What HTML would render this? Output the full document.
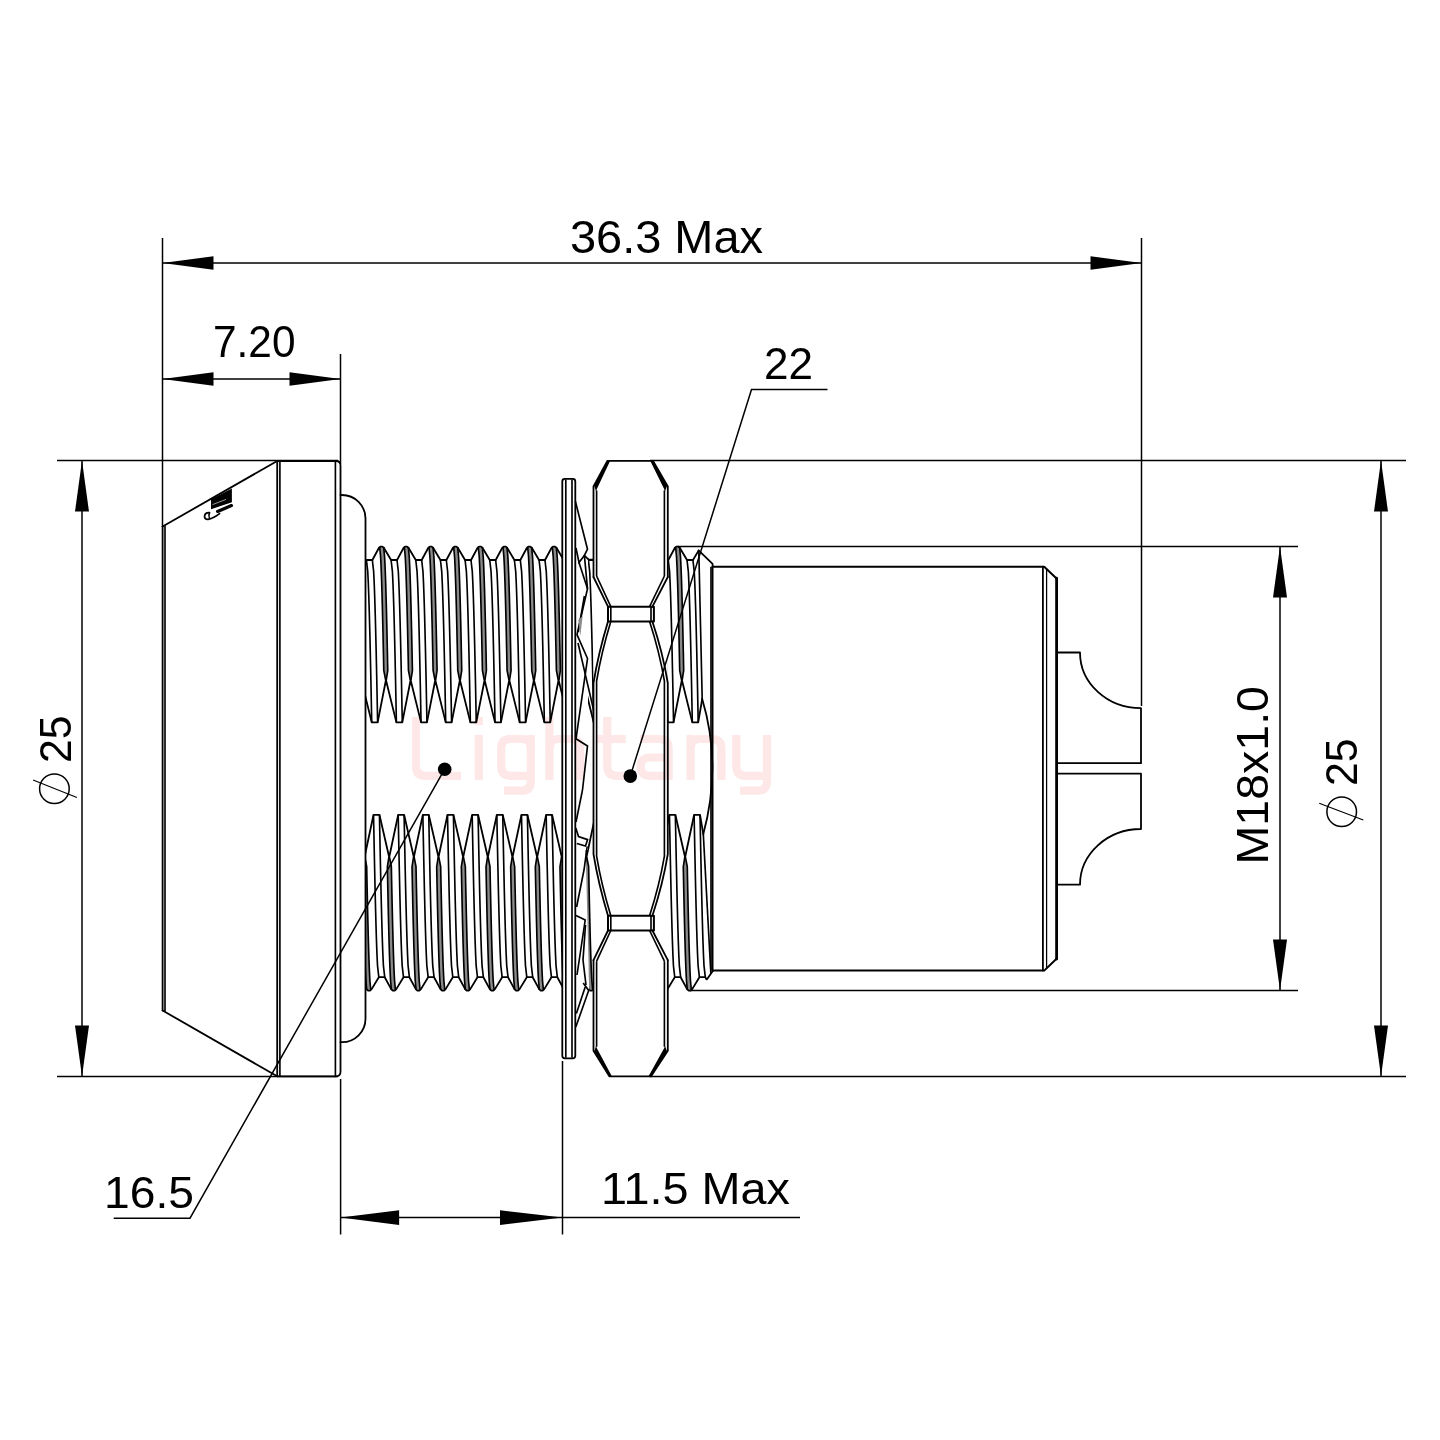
<!DOCTYPE html>
<html><head><meta charset="utf-8"><title>Drawing</title>
<style>
html,body{margin:0;padding:0;background:#fff;}
body{width:1440px;height:1440px;overflow:hidden;}
svg{display:block;}
.d{stroke:#000;stroke-width:1.5;fill:none;}
.o{stroke:#000;stroke-width:1.8;fill:none;stroke-linejoin:round;stroke-linecap:round;}
.b{stroke:#000;stroke-width:2.0;fill:none;stroke-linejoin:round;stroke-linecap:round;}
.t{stroke:#000;stroke-width:1.65;fill:none;}
.cf{fill:#8a8a8a;stroke:none;}
.a{fill:#000;stroke:none;}
.w{fill:#fff;stroke:none;}
text{font-family:"Liberation Sans",sans-serif;fill:#000;}
svg{will-change:transform;}
.wmk path{stroke:#fde7e7;stroke-width:8.2;fill:none;stroke-linejoin:round;}
</style></head><body>
<svg width="1440" height="1440" viewBox="0 0 1440 1440">
<rect width="1440" height="1440" fill="#fff"/>
<defs>
<clipPath id="cl"><rect x="365.5" y="530" width="196.8" height="480"/></clipPath>
<clipPath id="cr"><path d="M667.8 530 L677.6 530 L712.5 563.75 L712.5 971.5 L706.9 979.4 L680 1007 L667.8 1007 Z"/></clipPath>
<clipPath id="cm"><path d="M588 540 L593.6 540 L593.6 1000 L589.5 1000 L585.6 850 L588 850 Z"/></clipPath>
</defs>

<g class="wmk">
<path d="M416 717 V766.3 Q416 775.8 425.5 775.8 H461"/>
<path d="M478.8 734.9 V779.9"/>
<path d="M478.8 717 V725.2"/>
<path d="M530.8 748.5 Q530.8 739 521.3 739 H510.7 Q501.2 739 501.2 748.5 V766.3 Q501.2 775.8 510.7 775.8 H530.8"/>
<path d="M530.8 734.9 V781.2 Q530.8 790.7 521.3 790.7 H504"/>
<path d="M549.4 717 V779.9"/>
<path d="M549.4 748.5 Q549.4 739 558.9 739 H570.7 Q580.2 739 580.2 748.5 V779.9"/>
<path d="M607.3 717 V766.3 Q607.3 775.8 616.8 775.8 H625.7"/>
<path d="M597 739 H625.7"/>
<path d="M640 739 H659.1 Q668.6 739 668.6 748.5 V779.9"/>
<path d="M668.6 757.5 H650.1 Q640.6 757.5 640.6 766.6 Q640.6 775.8 650.1 775.8 H668.6"/>
<path d="M690.6 734.9 V779.9"/>
<path d="M690.6 748.5 Q690.6 739 700.1 739 H711.9 Q721.4 739 721.4 748.5 V779.9"/>
<path d="M736.3 734.9 V766.3 Q736.3 775.8 745.8 775.8 H767"/>
<path d="M767 734.9 V781.2 Q767 790.7 757.5 790.7 H740"/>
</g>
<g clip-path="url(#cl)">
<path class="cf" d="M379.69 547.2 L380.59 556.69 L381.06 566.17 L381.43 575.66 L381.75 585.14 L382.03 594.63 L382.29 604.11 L382.53 613.6 L382.76 623.09 L382.98 632.57 L383.18 642.06 L383.39 651.54 L383.58 661.03 L383.77 670.51 L385.65 680 L386.25 680 L387.77 670.51 L387.58 661.03 L387.39 651.54 L387.18 642.06 L386.98 632.57 L386.76 623.09 L386.53 613.6 L386.29 604.11 L386.03 594.63 L385.75 585.14 L385.43 575.66 L385.06 566.17 L384.59 556.69 L383.69 547.2 Z"/>
<path class="t" d="M379.69 547.2 L380.59 556.69 L381.06 566.17 L381.43 575.66 L381.75 585.14 L382.03 594.63 L382.29 604.11 L382.53 613.6 L382.76 623.09 L382.98 632.57 L383.18 642.06 L383.39 651.54 L383.58 661.03 L383.77 670.51 L385.65 680"/>
<path class="t" d="M383.69 547.2 L384.59 556.69 L385.06 566.17 L385.43 575.66 L385.75 585.14 L386.03 594.63 L386.29 604.11 L386.53 613.6 L386.76 623.09 L386.98 632.57 L387.18 642.06 L387.39 651.54 L387.58 661.03 L387.77 670.51 L386.25 680"/>
<path class="t" d="M391.1 560 L392.42 571.6 L392.97 583.2 L393.4 594.8 L393.77 606.4 L394.1 618 L394.4 629.6 L394.69 641.2 L394.96 652.8 L395.21 664.4 L395.46 676 L395.7 687.6 L395.93 699.2 L396.16 710.8 L396.39 722.4"/>
<path class="t" d="M397 560 L398.32 571.6 L398.87 583.2 L399.3 594.8 L399.67 606.4 L400 618 L400.3 629.6 L400.59 641.2 L400.86 652.8 L401.11 664.4 L401.36 676 L401.6 687.6 L401.83 699.2 L402.06 710.8 L402.29 722.4"/>
<path class="cf" d="M404.35 547.2 L405.25 556.69 L405.72 566.17 L406.09 575.66 L406.41 585.14 L406.69 594.63 L406.95 604.11 L407.19 613.6 L407.42 623.09 L407.64 632.57 L407.84 642.06 L408.05 651.54 L408.24 661.03 L408.43 670.51 L410.31 680 L410.91 680 L412.43 670.51 L412.24 661.03 L412.05 651.54 L411.84 642.06 L411.64 632.57 L411.42 623.09 L411.19 613.6 L410.95 604.11 L410.69 594.63 L410.41 585.14 L410.09 575.66 L409.72 566.17 L409.25 556.69 L408.35 547.2 Z"/>
<path class="t" d="M404.35 547.2 L405.25 556.69 L405.72 566.17 L406.09 575.66 L406.41 585.14 L406.69 594.63 L406.95 604.11 L407.19 613.6 L407.42 623.09 L407.64 632.57 L407.84 642.06 L408.05 651.54 L408.24 661.03 L408.43 670.51 L410.31 680"/>
<path class="t" d="M408.35 547.2 L409.25 556.69 L409.72 566.17 L410.09 575.66 L410.41 585.14 L410.69 594.63 L410.95 604.11 L411.19 613.6 L411.42 623.09 L411.64 632.57 L411.84 642.06 L412.05 651.54 L412.24 661.03 L412.43 670.51 L410.91 680"/>
<path class="t" d="M415.76 560 L417.08 571.6 L417.63 583.2 L418.06 594.8 L418.43 606.4 L418.76 618 L419.06 629.6 L419.35 641.2 L419.62 652.8 L419.87 664.4 L420.12 676 L420.36 687.6 L420.59 699.2 L420.82 710.8 L421.05 722.4"/>
<path class="t" d="M421.66 560 L422.98 571.6 L423.53 583.2 L423.96 594.8 L424.33 606.4 L424.66 618 L424.96 629.6 L425.25 641.2 L425.52 652.8 L425.77 664.4 L426.02 676 L426.26 687.6 L426.49 699.2 L426.72 710.8 L426.95 722.4"/>
<path class="cf" d="M429.01 547.2 L429.91 556.69 L430.38 566.17 L430.75 575.66 L431.07 585.14 L431.35 594.63 L431.61 604.11 L431.85 613.6 L432.08 623.09 L432.3 632.57 L432.5 642.06 L432.71 651.54 L432.9 661.03 L433.09 670.51 L434.97 680 L435.57 680 L437.09 670.51 L436.9 661.03 L436.71 651.54 L436.5 642.06 L436.3 632.57 L436.08 623.09 L435.85 613.6 L435.61 604.11 L435.35 594.63 L435.07 585.14 L434.75 575.66 L434.38 566.17 L433.91 556.69 L433.01 547.2 Z"/>
<path class="t" d="M429.01 547.2 L429.91 556.69 L430.38 566.17 L430.75 575.66 L431.07 585.14 L431.35 594.63 L431.61 604.11 L431.85 613.6 L432.08 623.09 L432.3 632.57 L432.5 642.06 L432.71 651.54 L432.9 661.03 L433.09 670.51 L434.97 680"/>
<path class="t" d="M433.01 547.2 L433.91 556.69 L434.38 566.17 L434.75 575.66 L435.07 585.14 L435.35 594.63 L435.61 604.11 L435.85 613.6 L436.08 623.09 L436.3 632.57 L436.5 642.06 L436.71 651.54 L436.9 661.03 L437.09 670.51 L435.57 680"/>
<path class="t" d="M440.42 560 L441.74 571.6 L442.29 583.2 L442.72 594.8 L443.09 606.4 L443.42 618 L443.72 629.6 L444.01 641.2 L444.28 652.8 L444.53 664.4 L444.78 676 L445.02 687.6 L445.25 699.2 L445.48 710.8 L445.71 722.4"/>
<path class="t" d="M446.32 560 L447.64 571.6 L448.19 583.2 L448.62 594.8 L448.99 606.4 L449.32 618 L449.62 629.6 L449.91 641.2 L450.18 652.8 L450.43 664.4 L450.68 676 L450.92 687.6 L451.15 699.2 L451.38 710.8 L451.61 722.4"/>
<path class="cf" d="M453.67 547.2 L454.57 556.69 L455.04 566.17 L455.41 575.66 L455.73 585.14 L456.01 594.63 L456.27 604.11 L456.51 613.6 L456.74 623.09 L456.96 632.57 L457.16 642.06 L457.37 651.54 L457.56 661.03 L457.75 670.51 L459.63 680 L460.23 680 L461.75 670.51 L461.56 661.03 L461.37 651.54 L461.16 642.06 L460.96 632.57 L460.74 623.09 L460.51 613.6 L460.27 604.11 L460.01 594.63 L459.73 585.14 L459.41 575.66 L459.04 566.17 L458.57 556.69 L457.67 547.2 Z"/>
<path class="t" d="M453.67 547.2 L454.57 556.69 L455.04 566.17 L455.41 575.66 L455.73 585.14 L456.01 594.63 L456.27 604.11 L456.51 613.6 L456.74 623.09 L456.96 632.57 L457.16 642.06 L457.37 651.54 L457.56 661.03 L457.75 670.51 L459.63 680"/>
<path class="t" d="M457.67 547.2 L458.57 556.69 L459.04 566.17 L459.41 575.66 L459.73 585.14 L460.01 594.63 L460.27 604.11 L460.51 613.6 L460.74 623.09 L460.96 632.57 L461.16 642.06 L461.37 651.54 L461.56 661.03 L461.75 670.51 L460.23 680"/>
<path class="t" d="M465.08 560 L466.4 571.6 L466.95 583.2 L467.38 594.8 L467.75 606.4 L468.08 618 L468.38 629.6 L468.67 641.2 L468.94 652.8 L469.19 664.4 L469.44 676 L469.68 687.6 L469.91 699.2 L470.14 710.8 L470.37 722.4"/>
<path class="t" d="M470.98 560 L472.3 571.6 L472.85 583.2 L473.28 594.8 L473.65 606.4 L473.98 618 L474.28 629.6 L474.57 641.2 L474.84 652.8 L475.09 664.4 L475.34 676 L475.58 687.6 L475.81 699.2 L476.04 710.8 L476.27 722.4"/>
<path class="cf" d="M478.33 547.2 L479.23 556.69 L479.7 566.17 L480.07 575.66 L480.39 585.14 L480.67 594.63 L480.93 604.11 L481.17 613.6 L481.4 623.09 L481.62 632.57 L481.82 642.06 L482.03 651.54 L482.22 661.03 L482.41 670.51 L484.29 680 L484.89 680 L486.41 670.51 L486.22 661.03 L486.03 651.54 L485.82 642.06 L485.62 632.57 L485.4 623.09 L485.17 613.6 L484.93 604.11 L484.67 594.63 L484.39 585.14 L484.07 575.66 L483.7 566.17 L483.23 556.69 L482.33 547.2 Z"/>
<path class="t" d="M478.33 547.2 L479.23 556.69 L479.7 566.17 L480.07 575.66 L480.39 585.14 L480.67 594.63 L480.93 604.11 L481.17 613.6 L481.4 623.09 L481.62 632.57 L481.82 642.06 L482.03 651.54 L482.22 661.03 L482.41 670.51 L484.29 680"/>
<path class="t" d="M482.33 547.2 L483.23 556.69 L483.7 566.17 L484.07 575.66 L484.39 585.14 L484.67 594.63 L484.93 604.11 L485.17 613.6 L485.4 623.09 L485.62 632.57 L485.82 642.06 L486.03 651.54 L486.22 661.03 L486.41 670.51 L484.89 680"/>
<path class="t" d="M489.74 560 L491.06 571.6 L491.61 583.2 L492.04 594.8 L492.41 606.4 L492.74 618 L493.04 629.6 L493.33 641.2 L493.6 652.8 L493.85 664.4 L494.1 676 L494.34 687.6 L494.57 699.2 L494.8 710.8 L495.03 722.4"/>
<path class="t" d="M495.64 560 L496.96 571.6 L497.51 583.2 L497.94 594.8 L498.31 606.4 L498.64 618 L498.94 629.6 L499.23 641.2 L499.5 652.8 L499.75 664.4 L500 676 L500.24 687.6 L500.47 699.2 L500.7 710.8 L500.93 722.4"/>
<path class="cf" d="M502.99 547.2 L503.89 556.69 L504.36 566.17 L504.73 575.66 L505.05 585.14 L505.33 594.63 L505.59 604.11 L505.83 613.6 L506.06 623.09 L506.28 632.57 L506.48 642.06 L506.69 651.54 L506.88 661.03 L507.07 670.51 L508.95 680 L509.55 680 L511.07 670.51 L510.88 661.03 L510.69 651.54 L510.48 642.06 L510.28 632.57 L510.06 623.09 L509.83 613.6 L509.59 604.11 L509.33 594.63 L509.05 585.14 L508.73 575.66 L508.36 566.17 L507.89 556.69 L506.99 547.2 Z"/>
<path class="t" d="M502.99 547.2 L503.89 556.69 L504.36 566.17 L504.73 575.66 L505.05 585.14 L505.33 594.63 L505.59 604.11 L505.83 613.6 L506.06 623.09 L506.28 632.57 L506.48 642.06 L506.69 651.54 L506.88 661.03 L507.07 670.51 L508.95 680"/>
<path class="t" d="M506.99 547.2 L507.89 556.69 L508.36 566.17 L508.73 575.66 L509.05 585.14 L509.33 594.63 L509.59 604.11 L509.83 613.6 L510.06 623.09 L510.28 632.57 L510.48 642.06 L510.69 651.54 L510.88 661.03 L511.07 670.51 L509.55 680"/>
<path class="t" d="M514.4 560 L515.72 571.6 L516.27 583.2 L516.7 594.8 L517.07 606.4 L517.4 618 L517.7 629.6 L517.99 641.2 L518.26 652.8 L518.51 664.4 L518.76 676 L519 687.6 L519.23 699.2 L519.46 710.8 L519.69 722.4"/>
<path class="t" d="M520.3 560 L521.62 571.6 L522.17 583.2 L522.6 594.8 L522.97 606.4 L523.3 618 L523.6 629.6 L523.89 641.2 L524.16 652.8 L524.41 664.4 L524.66 676 L524.9 687.6 L525.13 699.2 L525.36 710.8 L525.59 722.4"/>
<path class="cf" d="M527.65 547.2 L528.55 556.69 L529.02 566.17 L529.39 575.66 L529.71 585.14 L529.99 594.63 L530.25 604.11 L530.49 613.6 L530.72 623.09 L530.94 632.57 L531.14 642.06 L531.35 651.54 L531.54 661.03 L531.73 670.51 L533.61 680 L534.21 680 L535.73 670.51 L535.54 661.03 L535.35 651.54 L535.14 642.06 L534.94 632.57 L534.72 623.09 L534.49 613.6 L534.25 604.11 L533.99 594.63 L533.71 585.14 L533.39 575.66 L533.02 566.17 L532.55 556.69 L531.65 547.2 Z"/>
<path class="t" d="M527.65 547.2 L528.55 556.69 L529.02 566.17 L529.39 575.66 L529.71 585.14 L529.99 594.63 L530.25 604.11 L530.49 613.6 L530.72 623.09 L530.94 632.57 L531.14 642.06 L531.35 651.54 L531.54 661.03 L531.73 670.51 L533.61 680"/>
<path class="t" d="M531.65 547.2 L532.55 556.69 L533.02 566.17 L533.39 575.66 L533.71 585.14 L533.99 594.63 L534.25 604.11 L534.49 613.6 L534.72 623.09 L534.94 632.57 L535.14 642.06 L535.35 651.54 L535.54 661.03 L535.73 670.51 L534.21 680"/>
<path class="t" d="M539.06 560 L540.38 571.6 L540.93 583.2 L541.36 594.8 L541.73 606.4 L542.06 618 L542.36 629.6 L542.65 641.2 L542.92 652.8 L543.17 664.4 L543.42 676 L543.66 687.6 L543.89 699.2 L544.12 710.8 L544.35 722.4"/>
<path class="t" d="M544.96 560 L546.28 571.6 L546.83 583.2 L547.26 594.8 L547.63 606.4 L547.96 618 L548.26 629.6 L548.55 641.2 L548.82 652.8 L549.07 664.4 L549.32 676 L549.56 687.6 L549.79 699.2 L550.02 710.8 L550.25 722.4"/>
<path class="cf" d="M552.31 547.2 L553.21 556.69 L553.68 566.17 L554.05 575.66 L554.37 585.14 L554.65 594.63 L554.91 604.11 L555.15 613.6 L555.38 623.09 L555.6 632.57 L555.8 642.06 L556.01 651.54 L556.2 661.03 L556.39 670.51 L558.27 680 L558.87 680 L560.39 670.51 L560.2 661.03 L560.01 651.54 L559.8 642.06 L559.6 632.57 L559.38 623.09 L559.15 613.6 L558.91 604.11 L558.65 594.63 L558.37 585.14 L558.05 575.66 L557.68 566.17 L557.21 556.69 L556.31 547.2 Z"/>
<path class="t" d="M552.31 547.2 L553.21 556.69 L553.68 566.17 L554.05 575.66 L554.37 585.14 L554.65 594.63 L554.91 604.11 L555.15 613.6 L555.38 623.09 L555.6 632.57 L555.8 642.06 L556.01 651.54 L556.2 661.03 L556.39 670.51 L558.27 680"/>
<path class="t" d="M556.31 547.2 L557.21 556.69 L557.68 566.17 L558.05 575.66 L558.37 585.14 L558.65 594.63 L558.91 604.11 L559.15 613.6 L559.38 623.09 L559.6 632.57 L559.8 642.06 L560.01 651.54 L560.2 661.03 L560.39 670.51 L558.87 680"/>
<path class="t" d="M563.72 560 L565.04 571.6 L565.59 583.2 L566.02 594.8 L566.39 606.4 L566.72 618 L567.02 629.6 L567.31 641.2 L567.58 652.8 L567.83 664.4 L568.08 676 L568.32 687.6 L568.55 699.2 L568.78 710.8 L569.01 722.4"/>
<path class="t" d="M569.62 560 L570.94 571.6 L571.49 583.2 L571.92 594.8 L572.29 606.4 L572.62 618 L572.92 629.6 L573.21 641.2 L573.48 652.8 L573.73 664.4 L573.98 676 L574.22 687.6 L574.45 699.2 L574.68 710.8 L574.91 722.4"/>
<path class="t" d="M366.44 560 L367.76 571.6 L368.31 583.2 L368.74 594.8 L369.11 606.4 L369.44 618 L369.74 629.6 L370.03 641.2 L370.3 652.8 L370.55 664.4 L370.8 676 L371.04 687.6 L371.27 699.2 L371.5 710.8 L371.73 722.4"/>
<path class="t" d="M372.34 560 L373.66 571.6 L374.21 583.2 L374.64 594.8 L375.01 606.4 L375.34 618 L375.64 629.6 L375.93 641.2 L376.2 652.8 L376.45 664.4 L376.7 676 L376.94 687.6 L377.17 699.2 L377.4 710.8 L377.63 722.4"/>
<path class="o" d="M366.5 560 L372.4 560 L379 547.8 L380.4 546.6 L382.4 546.6 L383.8 547.8 L391.1 560 L391.16 560 L397.06 560 L403.66 547.8 L405.06 546.6 L407.06 546.6 L408.46 547.8 L415.76 560 L415.82 560 L421.72 560 L428.32 547.8 L429.72 546.6 L431.72 546.6 L433.12 547.8 L440.42 560 L440.48 560 L446.38 560 L452.98 547.8 L454.38 546.6 L456.38 546.6 L457.78 547.8 L465.08 560 L465.14 560 L471.04 560 L477.64 547.8 L479.04 546.6 L481.04 546.6 L482.44 547.8 L489.74 560 L489.8 560 L495.7 560 L502.3 547.8 L503.7 546.6 L505.7 546.6 L507.1 547.8 L514.4 560 L514.46 560 L520.36 560 L526.96 547.8 L528.36 546.6 L530.36 546.6 L531.76 547.8 L539.06 560 L539.12 560 L545.02 560 L551.62 547.8 L553.02 546.6 L555.02 546.6 L556.42 547.8 L563.72 560 L563.78 560 L569.68 560 L577.68 546.6"/>
<path class="o" d="M361.29 680 L371.73 722.4 L377.63 722.4 L385.95 680 L396.39 722.4 L402.29 722.4 L402.29 722.4 L410.61 680 L421.05 722.4 L426.95 722.4 L426.95 722.4 L435.27 680 L445.71 722.4 L451.61 722.4 L451.61 722.4 L459.93 680 L470.37 722.4 L476.27 722.4 L476.27 722.4 L484.59 680 L495.03 722.4 L500.93 722.4 L500.93 722.4 L509.25 680 L519.69 722.4 L525.59 722.4 L525.59 722.4 L533.91 680 L544.35 722.4 L550.25 722.4 L550.25 722.4 L558.57 680 L569.01 722.4 L574.91 722.4 L583.23 680"/>
<path class="cf" d="M364.22 857.2 L362.7 866.69 L362.89 876.17 L363.08 885.66 L363.29 895.14 L363.49 904.63 L363.71 914.11 L363.94 923.6 L364.18 933.09 L364.44 942.57 L364.72 952.06 L365.04 961.54 L365.41 971.03 L365.88 980.51 L366.78 990 L370.78 990 L369.88 980.51 L369.41 971.03 L369.04 961.54 L368.72 952.06 L368.44 942.57 L368.18 933.09 L367.94 923.6 L367.71 914.11 L367.49 904.63 L367.29 895.14 L367.08 885.66 L366.89 876.17 L366.7 866.69 L364.82 857.2 Z"/>
<path class="t" d="M364.22 857.2 L362.7 866.69 L362.89 876.17 L363.08 885.66 L363.29 895.14 L363.49 904.63 L363.71 914.11 L363.94 923.6 L364.18 933.09 L364.44 942.57 L364.72 952.06 L365.04 961.54 L365.41 971.03 L365.88 980.51 L366.78 990"/>
<path class="t" d="M364.82 857.2 L366.7 866.69 L366.89 876.17 L367.08 885.66 L367.29 895.14 L367.49 904.63 L367.71 914.11 L367.94 923.6 L368.18 933.09 L368.44 942.57 L368.72 952.06 L369.04 961.54 L369.41 971.03 L369.88 980.51 L370.78 990"/>
<path class="t" d="M348.88 814.8 L349.11 826.4 L349.34 838 L349.57 849.6 L349.81 861.2 L350.06 872.8 L350.31 884.4 L350.58 896 L350.87 907.6 L351.17 919.2 L351.5 930.8 L351.87 942.4 L352.3 954 L352.85 965.6 L354.17 977.2"/>
<path class="t" d="M354.78 814.8 L355.01 826.4 L355.24 838 L355.47 849.6 L355.71 861.2 L355.96 872.8 L356.21 884.4 L356.48 896 L356.77 907.6 L357.07 919.2 L357.4 930.8 L357.77 942.4 L358.2 954 L358.75 965.6 L360.07 977.2"/>
<path class="cf" d="M388.88 857.2 L387.36 866.69 L387.55 876.17 L387.74 885.66 L387.95 895.14 L388.15 904.63 L388.37 914.11 L388.6 923.6 L388.84 933.09 L389.1 942.57 L389.38 952.06 L389.7 961.54 L390.07 971.03 L390.54 980.51 L391.44 990 L395.44 990 L394.54 980.51 L394.07 971.03 L393.7 961.54 L393.38 952.06 L393.1 942.57 L392.84 933.09 L392.6 923.6 L392.37 914.11 L392.15 904.63 L391.95 895.14 L391.74 885.66 L391.55 876.17 L391.36 866.69 L389.48 857.2 Z"/>
<path class="t" d="M388.88 857.2 L387.36 866.69 L387.55 876.17 L387.74 885.66 L387.95 895.14 L388.15 904.63 L388.37 914.11 L388.6 923.6 L388.84 933.09 L389.1 942.57 L389.38 952.06 L389.7 961.54 L390.07 971.03 L390.54 980.51 L391.44 990"/>
<path class="t" d="M389.48 857.2 L391.36 866.69 L391.55 876.17 L391.74 885.66 L391.95 895.14 L392.15 904.63 L392.37 914.11 L392.6 923.6 L392.84 933.09 L393.1 942.57 L393.38 952.06 L393.7 961.54 L394.07 971.03 L394.54 980.51 L395.44 990"/>
<path class="t" d="M373.54 814.8 L373.77 826.4 L374 838 L374.23 849.6 L374.47 861.2 L374.72 872.8 L374.97 884.4 L375.24 896 L375.53 907.6 L375.83 919.2 L376.16 930.8 L376.53 942.4 L376.96 954 L377.51 965.6 L378.83 977.2"/>
<path class="t" d="M379.44 814.8 L379.67 826.4 L379.9 838 L380.13 849.6 L380.37 861.2 L380.62 872.8 L380.87 884.4 L381.14 896 L381.43 907.6 L381.73 919.2 L382.06 930.8 L382.43 942.4 L382.86 954 L383.41 965.6 L384.73 977.2"/>
<path class="cf" d="M413.54 857.2 L412.02 866.69 L412.21 876.17 L412.4 885.66 L412.61 895.14 L412.81 904.63 L413.03 914.11 L413.26 923.6 L413.5 933.09 L413.76 942.57 L414.04 952.06 L414.36 961.54 L414.73 971.03 L415.2 980.51 L416.1 990 L420.1 990 L419.2 980.51 L418.73 971.03 L418.36 961.54 L418.04 952.06 L417.76 942.57 L417.5 933.09 L417.26 923.6 L417.03 914.11 L416.81 904.63 L416.61 895.14 L416.4 885.66 L416.21 876.17 L416.02 866.69 L414.14 857.2 Z"/>
<path class="t" d="M413.54 857.2 L412.02 866.69 L412.21 876.17 L412.4 885.66 L412.61 895.14 L412.81 904.63 L413.03 914.11 L413.26 923.6 L413.5 933.09 L413.76 942.57 L414.04 952.06 L414.36 961.54 L414.73 971.03 L415.2 980.51 L416.1 990"/>
<path class="t" d="M414.14 857.2 L416.02 866.69 L416.21 876.17 L416.4 885.66 L416.61 895.14 L416.81 904.63 L417.03 914.11 L417.26 923.6 L417.5 933.09 L417.76 942.57 L418.04 952.06 L418.36 961.54 L418.73 971.03 L419.2 980.51 L420.1 990"/>
<path class="t" d="M398.2 814.8 L398.43 826.4 L398.66 838 L398.89 849.6 L399.13 861.2 L399.38 872.8 L399.63 884.4 L399.9 896 L400.19 907.6 L400.49 919.2 L400.82 930.8 L401.19 942.4 L401.62 954 L402.17 965.6 L403.49 977.2"/>
<path class="t" d="M404.1 814.8 L404.33 826.4 L404.56 838 L404.79 849.6 L405.03 861.2 L405.28 872.8 L405.53 884.4 L405.8 896 L406.09 907.6 L406.39 919.2 L406.72 930.8 L407.09 942.4 L407.52 954 L408.07 965.6 L409.39 977.2"/>
<path class="cf" d="M438.2 857.2 L436.68 866.69 L436.87 876.17 L437.06 885.66 L437.27 895.14 L437.47 904.63 L437.69 914.11 L437.92 923.6 L438.16 933.09 L438.42 942.57 L438.7 952.06 L439.02 961.54 L439.39 971.03 L439.86 980.51 L440.76 990 L444.76 990 L443.86 980.51 L443.39 971.03 L443.02 961.54 L442.7 952.06 L442.42 942.57 L442.16 933.09 L441.92 923.6 L441.69 914.11 L441.47 904.63 L441.27 895.14 L441.06 885.66 L440.87 876.17 L440.68 866.69 L438.8 857.2 Z"/>
<path class="t" d="M438.2 857.2 L436.68 866.69 L436.87 876.17 L437.06 885.66 L437.27 895.14 L437.47 904.63 L437.69 914.11 L437.92 923.6 L438.16 933.09 L438.42 942.57 L438.7 952.06 L439.02 961.54 L439.39 971.03 L439.86 980.51 L440.76 990"/>
<path class="t" d="M438.8 857.2 L440.68 866.69 L440.87 876.17 L441.06 885.66 L441.27 895.14 L441.47 904.63 L441.69 914.11 L441.92 923.6 L442.16 933.09 L442.42 942.57 L442.7 952.06 L443.02 961.54 L443.39 971.03 L443.86 980.51 L444.76 990"/>
<path class="t" d="M422.86 814.8 L423.09 826.4 L423.32 838 L423.55 849.6 L423.79 861.2 L424.04 872.8 L424.29 884.4 L424.56 896 L424.85 907.6 L425.15 919.2 L425.48 930.8 L425.85 942.4 L426.28 954 L426.83 965.6 L428.15 977.2"/>
<path class="t" d="M428.76 814.8 L428.99 826.4 L429.22 838 L429.45 849.6 L429.69 861.2 L429.94 872.8 L430.19 884.4 L430.46 896 L430.75 907.6 L431.05 919.2 L431.38 930.8 L431.75 942.4 L432.18 954 L432.73 965.6 L434.05 977.2"/>
<path class="cf" d="M462.86 857.2 L461.34 866.69 L461.53 876.17 L461.72 885.66 L461.93 895.14 L462.13 904.63 L462.35 914.11 L462.58 923.6 L462.82 933.09 L463.08 942.57 L463.36 952.06 L463.68 961.54 L464.05 971.03 L464.52 980.51 L465.42 990 L469.42 990 L468.52 980.51 L468.05 971.03 L467.68 961.54 L467.36 952.06 L467.08 942.57 L466.82 933.09 L466.58 923.6 L466.35 914.11 L466.13 904.63 L465.93 895.14 L465.72 885.66 L465.53 876.17 L465.34 866.69 L463.46 857.2 Z"/>
<path class="t" d="M462.86 857.2 L461.34 866.69 L461.53 876.17 L461.72 885.66 L461.93 895.14 L462.13 904.63 L462.35 914.11 L462.58 923.6 L462.82 933.09 L463.08 942.57 L463.36 952.06 L463.68 961.54 L464.05 971.03 L464.52 980.51 L465.42 990"/>
<path class="t" d="M463.46 857.2 L465.34 866.69 L465.53 876.17 L465.72 885.66 L465.93 895.14 L466.13 904.63 L466.35 914.11 L466.58 923.6 L466.82 933.09 L467.08 942.57 L467.36 952.06 L467.68 961.54 L468.05 971.03 L468.52 980.51 L469.42 990"/>
<path class="t" d="M447.52 814.8 L447.75 826.4 L447.98 838 L448.21 849.6 L448.45 861.2 L448.7 872.8 L448.95 884.4 L449.22 896 L449.51 907.6 L449.81 919.2 L450.14 930.8 L450.51 942.4 L450.94 954 L451.49 965.6 L452.81 977.2"/>
<path class="t" d="M453.42 814.8 L453.65 826.4 L453.88 838 L454.11 849.6 L454.35 861.2 L454.6 872.8 L454.85 884.4 L455.12 896 L455.41 907.6 L455.71 919.2 L456.04 930.8 L456.41 942.4 L456.84 954 L457.39 965.6 L458.71 977.2"/>
<path class="cf" d="M487.52 857.2 L486 866.69 L486.19 876.17 L486.38 885.66 L486.59 895.14 L486.79 904.63 L487.01 914.11 L487.24 923.6 L487.48 933.09 L487.74 942.57 L488.02 952.06 L488.34 961.54 L488.71 971.03 L489.18 980.51 L490.08 990 L494.08 990 L493.18 980.51 L492.71 971.03 L492.34 961.54 L492.02 952.06 L491.74 942.57 L491.48 933.09 L491.24 923.6 L491.01 914.11 L490.79 904.63 L490.59 895.14 L490.38 885.66 L490.19 876.17 L490 866.69 L488.12 857.2 Z"/>
<path class="t" d="M487.52 857.2 L486 866.69 L486.19 876.17 L486.38 885.66 L486.59 895.14 L486.79 904.63 L487.01 914.11 L487.24 923.6 L487.48 933.09 L487.74 942.57 L488.02 952.06 L488.34 961.54 L488.71 971.03 L489.18 980.51 L490.08 990"/>
<path class="t" d="M488.12 857.2 L490 866.69 L490.19 876.17 L490.38 885.66 L490.59 895.14 L490.79 904.63 L491.01 914.11 L491.24 923.6 L491.48 933.09 L491.74 942.57 L492.02 952.06 L492.34 961.54 L492.71 971.03 L493.18 980.51 L494.08 990"/>
<path class="t" d="M472.18 814.8 L472.41 826.4 L472.64 838 L472.87 849.6 L473.11 861.2 L473.36 872.8 L473.61 884.4 L473.88 896 L474.17 907.6 L474.47 919.2 L474.8 930.8 L475.17 942.4 L475.6 954 L476.15 965.6 L477.47 977.2"/>
<path class="t" d="M478.08 814.8 L478.31 826.4 L478.54 838 L478.77 849.6 L479.01 861.2 L479.26 872.8 L479.51 884.4 L479.78 896 L480.07 907.6 L480.37 919.2 L480.7 930.8 L481.07 942.4 L481.5 954 L482.05 965.6 L483.37 977.2"/>
<path class="cf" d="M512.18 857.2 L510.66 866.69 L510.85 876.17 L511.04 885.66 L511.25 895.14 L511.45 904.63 L511.67 914.11 L511.9 923.6 L512.14 933.09 L512.4 942.57 L512.68 952.06 L513 961.54 L513.37 971.03 L513.84 980.51 L514.74 990 L518.74 990 L517.84 980.51 L517.37 971.03 L517 961.54 L516.68 952.06 L516.4 942.57 L516.14 933.09 L515.9 923.6 L515.67 914.11 L515.45 904.63 L515.25 895.14 L515.04 885.66 L514.85 876.17 L514.66 866.69 L512.78 857.2 Z"/>
<path class="t" d="M512.18 857.2 L510.66 866.69 L510.85 876.17 L511.04 885.66 L511.25 895.14 L511.45 904.63 L511.67 914.11 L511.9 923.6 L512.14 933.09 L512.4 942.57 L512.68 952.06 L513 961.54 L513.37 971.03 L513.84 980.51 L514.74 990"/>
<path class="t" d="M512.78 857.2 L514.66 866.69 L514.85 876.17 L515.04 885.66 L515.25 895.14 L515.45 904.63 L515.67 914.11 L515.9 923.6 L516.14 933.09 L516.4 942.57 L516.68 952.06 L517 961.54 L517.37 971.03 L517.84 980.51 L518.74 990"/>
<path class="t" d="M496.84 814.8 L497.07 826.4 L497.3 838 L497.53 849.6 L497.77 861.2 L498.02 872.8 L498.27 884.4 L498.54 896 L498.83 907.6 L499.13 919.2 L499.46 930.8 L499.83 942.4 L500.26 954 L500.81 965.6 L502.13 977.2"/>
<path class="t" d="M502.74 814.8 L502.97 826.4 L503.2 838 L503.43 849.6 L503.67 861.2 L503.92 872.8 L504.17 884.4 L504.44 896 L504.73 907.6 L505.03 919.2 L505.36 930.8 L505.73 942.4 L506.16 954 L506.71 965.6 L508.03 977.2"/>
<path class="cf" d="M536.84 857.2 L535.32 866.69 L535.51 876.17 L535.7 885.66 L535.91 895.14 L536.11 904.63 L536.33 914.11 L536.56 923.6 L536.8 933.09 L537.06 942.57 L537.34 952.06 L537.66 961.54 L538.03 971.03 L538.5 980.51 L539.4 990 L543.4 990 L542.5 980.51 L542.03 971.03 L541.66 961.54 L541.34 952.06 L541.06 942.57 L540.8 933.09 L540.56 923.6 L540.33 914.11 L540.11 904.63 L539.91 895.14 L539.7 885.66 L539.51 876.17 L539.32 866.69 L537.44 857.2 Z"/>
<path class="t" d="M536.84 857.2 L535.32 866.69 L535.51 876.17 L535.7 885.66 L535.91 895.14 L536.11 904.63 L536.33 914.11 L536.56 923.6 L536.8 933.09 L537.06 942.57 L537.34 952.06 L537.66 961.54 L538.03 971.03 L538.5 980.51 L539.4 990"/>
<path class="t" d="M537.44 857.2 L539.32 866.69 L539.51 876.17 L539.7 885.66 L539.91 895.14 L540.11 904.63 L540.33 914.11 L540.56 923.6 L540.8 933.09 L541.06 942.57 L541.34 952.06 L541.66 961.54 L542.03 971.03 L542.5 980.51 L543.4 990"/>
<path class="t" d="M521.5 814.8 L521.73 826.4 L521.96 838 L522.19 849.6 L522.43 861.2 L522.68 872.8 L522.93 884.4 L523.2 896 L523.49 907.6 L523.79 919.2 L524.12 930.8 L524.49 942.4 L524.92 954 L525.47 965.6 L526.79 977.2"/>
<path class="t" d="M527.4 814.8 L527.63 826.4 L527.86 838 L528.09 849.6 L528.33 861.2 L528.58 872.8 L528.83 884.4 L529.1 896 L529.39 907.6 L529.69 919.2 L530.02 930.8 L530.39 942.4 L530.82 954 L531.37 965.6 L532.69 977.2"/>
<path class="cf" d="M561.5 857.2 L559.98 866.69 L560.17 876.17 L560.36 885.66 L560.57 895.14 L560.77 904.63 L560.99 914.11 L561.22 923.6 L561.46 933.09 L561.72 942.57 L562 952.06 L562.32 961.54 L562.69 971.03 L563.16 980.51 L564.06 990 L568.06 990 L567.16 980.51 L566.69 971.03 L566.32 961.54 L566 952.06 L565.72 942.57 L565.46 933.09 L565.22 923.6 L564.99 914.11 L564.77 904.63 L564.57 895.14 L564.36 885.66 L564.17 876.17 L563.98 866.69 L562.1 857.2 Z"/>
<path class="t" d="M561.5 857.2 L559.98 866.69 L560.17 876.17 L560.36 885.66 L560.57 895.14 L560.77 904.63 L560.99 914.11 L561.22 923.6 L561.46 933.09 L561.72 942.57 L562 952.06 L562.32 961.54 L562.69 971.03 L563.16 980.51 L564.06 990"/>
<path class="t" d="M562.1 857.2 L563.98 866.69 L564.17 876.17 L564.36 885.66 L564.57 895.14 L564.77 904.63 L564.99 914.11 L565.22 923.6 L565.46 933.09 L565.72 942.57 L566 952.06 L566.32 961.54 L566.69 971.03 L567.16 980.51 L568.06 990"/>
<path class="t" d="M546.16 814.8 L546.39 826.4 L546.62 838 L546.85 849.6 L547.09 861.2 L547.34 872.8 L547.59 884.4 L547.86 896 L548.15 907.6 L548.45 919.2 L548.78 930.8 L549.15 942.4 L549.58 954 L550.13 965.6 L551.45 977.2"/>
<path class="t" d="M552.06 814.8 L552.29 826.4 L552.52 838 L552.75 849.6 L552.99 861.2 L553.24 872.8 L553.49 884.4 L553.76 896 L554.05 907.6 L554.35 919.2 L554.68 930.8 L555.05 942.4 L555.48 954 L556.03 965.6 L557.35 977.2"/>
<path class="t" d="M570.82 814.8 L571.05 826.4 L571.28 838 L571.51 849.6 L571.75 861.2 L572 872.8 L572.25 884.4 L572.52 896 L572.81 907.6 L573.11 919.2 L573.44 930.8 L573.81 942.4 L574.24 954 L574.79 965.6 L576.11 977.2"/>
<path class="t" d="M576.72 814.8 L576.95 826.4 L577.18 838 L577.41 849.6 L577.65 861.2 L577.9 872.8 L578.15 884.4 L578.42 896 L578.71 907.6 L579.01 919.2 L579.34 930.8 L579.71 942.4 L580.14 954 L580.69 965.6 L582.01 977.2"/>
<path class="o" d="M348.88 814.8 L354.78 814.8 L364.52 857.2 L373.54 814.8 L379.44 814.8 L389.18 857.2 L398.2 814.8 L404.1 814.8 L413.84 857.2 L422.86 814.8 L428.76 814.8 L438.5 857.2 L447.52 814.8 L453.42 814.8 L463.16 857.2 L472.18 814.8 L478.08 814.8 L487.82 857.2 L496.84 814.8 L502.74 814.8 L512.48 857.2 L521.5 814.8 L527.4 814.8 L537.14 857.2 L546.16 814.8 L552.06 814.8 L561.8 857.2 L570.82 814.8 L576.72 814.8 L586.46 857.2"/>
<path class="o" d="M354.17 977.2 L360.07 977.2 L366.67 989.4 L368.07 990.6 L370.07 990.6 L371.47 989.4 L378.83 977.2 L384.73 977.2 L391.33 989.4 L392.73 990.6 L394.73 990.6 L396.13 989.4 L403.49 977.2 L409.39 977.2 L415.99 989.4 L417.39 990.6 L419.39 990.6 L420.79 989.4 L428.15 977.2 L434.05 977.2 L440.65 989.4 L442.05 990.6 L444.05 990.6 L445.45 989.4 L452.81 977.2 L458.71 977.2 L465.31 989.4 L466.71 990.6 L468.71 990.6 L470.11 989.4 L477.47 977.2 L483.37 977.2 L489.97 989.4 L491.37 990.6 L493.37 990.6 L494.77 989.4 L502.13 977.2 L508.03 977.2 L514.63 989.4 L516.03 990.6 L518.03 990.6 L519.43 989.4 L526.79 977.2 L532.69 977.2 L539.29 989.4 L540.69 990.6 L542.69 990.6 L544.09 989.4 L551.45 977.2 L557.35 977.2 L563.95 989.4 L565.35 990.6 L567.35 990.6 L568.75 989.4 L576.11 977.2 L582.01 977.2 L589.01 990.6"/>
</g>
<g clip-path="url(#cr)">
<path class="cf" d="M675.61 547.2 L676.51 556.69 L676.98 566.17 L677.35 575.66 L677.67 585.14 L677.95 594.63 L678.21 604.11 L678.45 613.6 L678.68 623.09 L678.9 632.57 L679.1 642.06 L679.31 651.54 L679.5 661.03 L679.69 670.51 L681.57 680 L682.17 680 L683.69 670.51 L683.5 661.03 L683.31 651.54 L683.1 642.06 L682.9 632.57 L682.68 623.09 L682.45 613.6 L682.21 604.11 L681.95 594.63 L681.67 585.14 L681.35 575.66 L680.98 566.17 L680.51 556.69 L679.61 547.2 Z"/>
<path class="t" d="M675.61 547.2 L676.51 556.69 L676.98 566.17 L677.35 575.66 L677.67 585.14 L677.95 594.63 L678.21 604.11 L678.45 613.6 L678.68 623.09 L678.9 632.57 L679.1 642.06 L679.31 651.54 L679.5 661.03 L679.69 670.51 L681.57 680"/>
<path class="t" d="M679.61 547.2 L680.51 556.69 L680.98 566.17 L681.35 575.66 L681.67 585.14 L681.95 594.63 L682.21 604.11 L682.45 613.6 L682.68 623.09 L682.9 632.57 L683.1 642.06 L683.31 651.54 L683.5 661.03 L683.69 670.51 L682.17 680"/>
<path class="t" d="M687.02 560 L688.34 571.6 L688.89 583.2 L689.32 594.8 L689.69 606.4 L690.02 618 L690.32 629.6 L690.61 641.2 L690.88 652.8 L691.13 664.4 L691.38 676 L691.62 687.6 L691.85 699.2 L692.08 710.8 L692.31 722.4"/>
<path class="t" d="M692.92 560 L694.24 571.6 L694.79 583.2 L695.22 594.8 L695.59 606.4 L695.92 618 L696.22 629.6 L696.51 641.2 L696.78 652.8 L697.03 664.4 L697.28 676 L697.52 687.6 L697.75 699.2 L697.98 710.8 L698.21 722.4"/>
<path class="t" d="M662.36 560 L663.68 571.6 L664.23 583.2 L664.66 594.8 L665.03 606.4 L665.36 618 L665.66 629.6 L665.95 641.2 L666.22 652.8 L666.47 664.4 L666.72 676 L666.96 687.6 L667.19 699.2 L667.42 710.8 L667.65 722.4"/>
<path class="t" d="M668.26 560 L669.58 571.6 L670.13 583.2 L670.56 594.8 L670.93 606.4 L671.26 618 L671.56 629.6 L671.85 641.2 L672.12 652.8 L672.37 664.4 L672.62 676 L672.86 687.6 L673.09 699.2 L673.32 710.8 L673.55 722.4"/>
<path class="o" d="M662.42 560 L668.32 560 L674.92 547.8 L676.32 546.6 L678.32 546.6 L679.72 547.8 L687.02 560 L687.08 560 L692.98 560 L700.98 546.6"/>
<path class="o" d="M657.21 680 L667.65 722.4 L673.55 722.4 L681.87 680 L692.31 722.4 L698.21 722.4 L702.2 699"/>
<path class="cf" d="M660.14 857.2 L658.62 866.69 L658.81 876.17 L659 885.66 L659.21 895.14 L659.41 904.63 L659.63 914.11 L659.86 923.6 L660.1 933.09 L660.36 942.57 L660.64 952.06 L660.96 961.54 L661.33 971.03 L661.8 980.51 L662.7 990 L666.7 990 L665.8 980.51 L665.33 971.03 L664.96 961.54 L664.64 952.06 L664.36 942.57 L664.1 933.09 L663.86 923.6 L663.63 914.11 L663.41 904.63 L663.21 895.14 L663 885.66 L662.81 876.17 L662.62 866.69 L660.74 857.2 Z"/>
<path class="t" d="M660.14 857.2 L658.62 866.69 L658.81 876.17 L659 885.66 L659.21 895.14 L659.41 904.63 L659.63 914.11 L659.86 923.6 L660.1 933.09 L660.36 942.57 L660.64 952.06 L660.96 961.54 L661.33 971.03 L661.8 980.51 L662.7 990"/>
<path class="t" d="M660.74 857.2 L662.62 866.69 L662.81 876.17 L663 885.66 L663.21 895.14 L663.41 904.63 L663.63 914.11 L663.86 923.6 L664.1 933.09 L664.36 942.57 L664.64 952.06 L664.96 961.54 L665.33 971.03 L665.8 980.51 L666.7 990"/>
<path class="t" d="M644.8 814.8 L645.03 826.4 L645.26 838 L645.49 849.6 L645.73 861.2 L645.98 872.8 L646.23 884.4 L646.5 896 L646.79 907.6 L647.09 919.2 L647.42 930.8 L647.79 942.4 L648.22 954 L648.77 965.6 L650.09 977.2"/>
<path class="t" d="M650.7 814.8 L650.93 826.4 L651.16 838 L651.39 849.6 L651.63 861.2 L651.88 872.8 L652.13 884.4 L652.4 896 L652.69 907.6 L652.99 919.2 L653.32 930.8 L653.69 942.4 L654.12 954 L654.67 965.6 L655.99 977.2"/>
<path class="cf" d="M684.8 857.2 L683.28 866.69 L683.47 876.17 L683.66 885.66 L683.87 895.14 L684.07 904.63 L684.29 914.11 L684.52 923.6 L684.76 933.09 L685.02 942.57 L685.3 952.06 L685.62 961.54 L685.99 971.03 L686.46 980.51 L687.36 990 L691.36 990 L690.46 980.51 L689.99 971.03 L689.62 961.54 L689.3 952.06 L689.02 942.57 L688.76 933.09 L688.52 923.6 L688.29 914.11 L688.07 904.63 L687.87 895.14 L687.66 885.66 L687.47 876.17 L687.28 866.69 L685.4 857.2 Z"/>
<path class="t" d="M684.8 857.2 L683.28 866.69 L683.47 876.17 L683.66 885.66 L683.87 895.14 L684.07 904.63 L684.29 914.11 L684.52 923.6 L684.76 933.09 L685.02 942.57 L685.3 952.06 L685.62 961.54 L685.99 971.03 L686.46 980.51 L687.36 990"/>
<path class="t" d="M685.4 857.2 L687.28 866.69 L687.47 876.17 L687.66 885.66 L687.87 895.14 L688.07 904.63 L688.29 914.11 L688.52 923.6 L688.76 933.09 L689.02 942.57 L689.3 952.06 L689.62 961.54 L689.99 971.03 L690.46 980.51 L691.36 990"/>
<path class="t" d="M669.46 814.8 L669.69 826.4 L669.92 838 L670.15 849.6 L670.39 861.2 L670.64 872.8 L670.89 884.4 L671.16 896 L671.45 907.6 L671.75 919.2 L672.08 930.8 L672.45 942.4 L672.88 954 L673.43 965.6 L674.75 977.2"/>
<path class="t" d="M675.36 814.8 L675.59 826.4 L675.82 838 L676.05 849.6 L676.29 861.2 L676.54 872.8 L676.79 884.4 L677.06 896 L677.35 907.6 L677.65 919.2 L677.98 930.8 L678.35 942.4 L678.78 954 L679.33 965.6 L680.65 977.2"/>
<path class="t" d="M694.12 814.8 L694.35 826.4 L694.58 838 L694.81 849.6 L695.05 861.2 L695.3 872.8 L695.55 884.4 L695.82 896 L696.11 907.6 L696.41 919.2 L696.74 930.8 L697.11 942.4 L697.54 954 L698.09 965.6 L699.41 977.2"/>
<path class="t" d="M700.02 814.8 L700.25 826.4 L700.48 838 L700.71 849.6 L700.95 861.2 L701.2 872.8 L701.45 884.4 L701.72 896 L702.01 907.6 L702.31 919.2 L702.64 930.8 L703.01 942.4 L703.44 954 L703.99 965.6 L705.31 977.2"/>
<path class="o" d="M644.8 814.8 L650.7 814.8 L660.44 857.2 L669.46 814.8 L675.36 814.8 L685.1 857.2 L694.12 814.8 L700.02 814.8 L703.3 834"/>
<path class="o" d="M650.09 977.2 L655.99 977.2 L662.59 989.4 L663.99 990.6 L665.99 990.6 L667.39 989.4 L674.75 977.2 L680.65 977.2 L687.25 989.4 L688.65 990.6 L690.65 990.6 L692.05 989.4 L699.41 977.2 L705.31 977.2 L712.31 990.6"/>
</g>
<g clip-path="url(#cm)">
<path class="cf" d="M576.97 547.2 L577.87 556.69 L578.34 566.17 L578.71 575.66 L579.03 585.14 L579.31 594.63 L579.57 604.11 L579.81 613.6 L580.04 623.09 L580.26 632.57 L580.46 642.06 L580.67 651.54 L580.86 661.03 L581.05 670.51 L582.93 680 L583.53 680 L585.05 670.51 L584.86 661.03 L584.67 651.54 L584.46 642.06 L584.26 632.57 L584.04 623.09 L583.81 613.6 L583.57 604.11 L583.31 594.63 L583.03 585.14 L582.71 575.66 L582.34 566.17 L581.87 556.69 L580.97 547.2 Z"/>
<path class="t" d="M576.97 547.2 L577.87 556.69 L578.34 566.17 L578.71 575.66 L579.03 585.14 L579.31 594.63 L579.57 604.11 L579.81 613.6 L580.04 623.09 L580.26 632.57 L580.46 642.06 L580.67 651.54 L580.86 661.03 L581.05 670.51 L582.93 680"/>
<path class="t" d="M580.97 547.2 L581.87 556.69 L582.34 566.17 L582.71 575.66 L583.03 585.14 L583.31 594.63 L583.57 604.11 L583.81 613.6 L584.04 623.09 L584.26 632.57 L584.46 642.06 L584.67 651.54 L584.86 661.03 L585.05 670.51 L583.53 680"/>
<path class="t" d="M588.38 560 L589.7 571.6 L590.25 583.2 L590.68 594.8 L591.05 606.4 L591.38 618 L591.68 629.6 L591.97 641.2 L592.24 652.8 L592.49 664.4 L592.74 676 L592.98 687.6 L593.21 699.2 L593.44 710.8 L593.67 722.4"/>
<path class="t" d="M594.28 560 L595.6 571.6 L596.15 583.2 L596.58 594.8 L596.95 606.4 L597.28 618 L597.58 629.6 L597.87 641.2 L598.14 652.8 L598.39 664.4 L598.64 676 L598.88 687.6 L599.11 699.2 L599.34 710.8 L599.57 722.4"/>
<path class="t" d="M563.72 560 L565.04 571.6 L565.59 583.2 L566.02 594.8 L566.39 606.4 L566.72 618 L567.02 629.6 L567.31 641.2 L567.58 652.8 L567.83 664.4 L568.08 676 L568.32 687.6 L568.55 699.2 L568.78 710.8 L569.01 722.4"/>
<path class="t" d="M569.62 560 L570.94 571.6 L571.49 583.2 L571.92 594.8 L572.29 606.4 L572.62 618 L572.92 629.6 L573.21 641.2 L573.48 652.8 L573.73 664.4 L573.98 676 L574.22 687.6 L574.45 699.2 L574.68 710.8 L574.91 722.4"/>
<path class="o" d="M563.78 560 L569.68 560 L576.28 547.8 L577.68 546.6 L579.68 546.6 L581.08 547.8 L588.38 560 L588.44 560 L594.34 560 L602.34 546.6"/>
<path class="o" d="M558.57 680 L569.01 722.4 L574.91 722.4 L583.23 680 L593.67 722.4 L599.57 722.4 L607.89 680"/>
<path class="cf" d="M561.5 857.2 L559.98 866.69 L560.17 876.17 L560.36 885.66 L560.57 895.14 L560.77 904.63 L560.99 914.11 L561.22 923.6 L561.46 933.09 L561.72 942.57 L562 952.06 L562.32 961.54 L562.69 971.03 L563.16 980.51 L564.06 990 L568.06 990 L567.16 980.51 L566.69 971.03 L566.32 961.54 L566 952.06 L565.72 942.57 L565.46 933.09 L565.22 923.6 L564.99 914.11 L564.77 904.63 L564.57 895.14 L564.36 885.66 L564.17 876.17 L563.98 866.69 L562.1 857.2 Z"/>
<path class="t" d="M561.5 857.2 L559.98 866.69 L560.17 876.17 L560.36 885.66 L560.57 895.14 L560.77 904.63 L560.99 914.11 L561.22 923.6 L561.46 933.09 L561.72 942.57 L562 952.06 L562.32 961.54 L562.69 971.03 L563.16 980.51 L564.06 990"/>
<path class="t" d="M562.1 857.2 L563.98 866.69 L564.17 876.17 L564.36 885.66 L564.57 895.14 L564.77 904.63 L564.99 914.11 L565.22 923.6 L565.46 933.09 L565.72 942.57 L566 952.06 L566.32 961.54 L566.69 971.03 L567.16 980.51 L568.06 990"/>
<path class="t" d="M546.16 814.8 L546.39 826.4 L546.62 838 L546.85 849.6 L547.09 861.2 L547.34 872.8 L547.59 884.4 L547.86 896 L548.15 907.6 L548.45 919.2 L548.78 930.8 L549.15 942.4 L549.58 954 L550.13 965.6 L551.45 977.2"/>
<path class="t" d="M552.06 814.8 L552.29 826.4 L552.52 838 L552.75 849.6 L552.99 861.2 L553.24 872.8 L553.49 884.4 L553.76 896 L554.05 907.6 L554.35 919.2 L554.68 930.8 L555.05 942.4 L555.48 954 L556.03 965.6 L557.35 977.2"/>
<path class="cf" d="M586.16 857.2 L584.64 866.69 L584.83 876.17 L585.02 885.66 L585.23 895.14 L585.43 904.63 L585.65 914.11 L585.88 923.6 L586.12 933.09 L586.38 942.57 L586.66 952.06 L586.98 961.54 L587.35 971.03 L587.82 980.51 L588.72 990 L592.72 990 L591.82 980.51 L591.35 971.03 L590.98 961.54 L590.66 952.06 L590.38 942.57 L590.12 933.09 L589.88 923.6 L589.65 914.11 L589.43 904.63 L589.23 895.14 L589.02 885.66 L588.83 876.17 L588.64 866.69 L586.76 857.2 Z"/>
<path class="t" d="M586.16 857.2 L584.64 866.69 L584.83 876.17 L585.02 885.66 L585.23 895.14 L585.43 904.63 L585.65 914.11 L585.88 923.6 L586.12 933.09 L586.38 942.57 L586.66 952.06 L586.98 961.54 L587.35 971.03 L587.82 980.51 L588.72 990"/>
<path class="t" d="M586.76 857.2 L588.64 866.69 L588.83 876.17 L589.02 885.66 L589.23 895.14 L589.43 904.63 L589.65 914.11 L589.88 923.6 L590.12 933.09 L590.38 942.57 L590.66 952.06 L590.98 961.54 L591.35 971.03 L591.82 980.51 L592.72 990"/>
<path class="t" d="M570.82 814.8 L571.05 826.4 L571.28 838 L571.51 849.6 L571.75 861.2 L572 872.8 L572.25 884.4 L572.52 896 L572.81 907.6 L573.11 919.2 L573.44 930.8 L573.81 942.4 L574.24 954 L574.79 965.6 L576.11 977.2"/>
<path class="t" d="M576.72 814.8 L576.95 826.4 L577.18 838 L577.41 849.6 L577.65 861.2 L577.9 872.8 L578.15 884.4 L578.42 896 L578.71 907.6 L579.01 919.2 L579.34 930.8 L579.71 942.4 L580.14 954 L580.69 965.6 L582.01 977.2"/>
<path class="t" d="M595.48 814.8 L595.71 826.4 L595.94 838 L596.17 849.6 L596.41 861.2 L596.66 872.8 L596.91 884.4 L597.18 896 L597.47 907.6 L597.77 919.2 L598.1 930.8 L598.47 942.4 L598.9 954 L599.45 965.6 L600.77 977.2"/>
<path class="t" d="M601.38 814.8 L601.61 826.4 L601.84 838 L602.07 849.6 L602.31 861.2 L602.56 872.8 L602.81 884.4 L603.08 896 L603.37 907.6 L603.67 919.2 L604 930.8 L604.37 942.4 L604.8 954 L605.35 965.6 L606.67 977.2"/>
<path class="o" d="M546.16 814.8 L552.06 814.8 L561.8 857.2 L570.82 814.8 L576.72 814.8 L586.46 857.2 L595.48 814.8 L601.38 814.8 L611.12 857.2"/>
<path class="o" d="M551.45 977.2 L557.35 977.2 L563.95 989.4 L565.35 990.6 L567.35 990.6 L568.75 989.4 L576.11 977.2 L582.01 977.2 L588.61 989.4 L590.01 990.6 L592.01 990.6 L593.41 989.4 L600.77 977.2 L606.67 977.2 L613.67 990.6"/>
</g>
<path class="o" d="M162.6 526.5 L162.6 1010.5"/>
<path class="t" d="M165 525.5 L165 1011.5"/>
<path class="o" d="M162.6 526.5 L277.2 461 L336 461"/>
<path class="o" d="M162.6 1010.5 L277.2 1076.3 L336 1076.3"/>
<path class="o" d="M336 461 Q340.5 461 340.5 465.5 L340.5 1071.8 Q340.5 1076.3 336 1076.3"/>
<line class="o" x1="277.2" y1="461" x2="277.2" y2="1076.3"/>
<line class="t" x1="279.9" y1="461" x2="279.9" y2="1076.3"/>
<line class="t" x1="335.4" y1="461" x2="335.4" y2="1076.3"/>
<path class="o" d="M340.5 495 L342 495 A23.5 23.5 0 0 1 365.5 518.5 L365.5 1018.7 A23.5 23.5 0 0 1 342 1042.2 L340.5 1042.2"/>
<polygon class="a" points="211,499.3 231.9,488.4 231.9,502.2 211,509.2"/>
<line x1="212.5" y1="504.6" x2="226" y2="499.4" stroke="#fff" stroke-width="0.6"/>
<line x1="217.6" y1="511.4" x2="231.4" y2="505.6" stroke="#000" stroke-width="3.3" stroke-linecap="round"/>
<path class="o" d="M209.5 512.6 Q205 512.4 204.6 516 Q204.4 519.6 208 519.4 Q213 518.6 219.5 513.6"/>
<path class="t" d="M209.5 512.6 Q208.2 515.4 209.6 518.6"/>
<path class="o" d="M562.3 481.4 Q562.3 478.9 564.8 478.9 L572.8 478.9 Q575.3 478.9 575.3 481.4 L575.3 1055.8 Q575.3 1058.3 572.8 1058.3 L564.8 1058.3 Q562.3 1058.3 562.3 1055.8 Z"/>
<line class="t" x1="565.8" y1="479.5" x2="565.8" y2="1057.7"/>
<line class="t" x1="572" y1="479.5" x2="572" y2="1057.7"/>
<path class="t" d="M575.3 501 L587.5 549.2 L584.4 555.4 L588.5 559.6 L593.5 559.6"/>
<path class="t" d="M576 548 L579 562.5 L584.4 555.4"/>
<path class="t" d="M584.4 555.4 L587.5 588.8 L577 634.6 L587.5 658.5 L576 738.8 L587.5 746 L582.5 790"/>
<path class="t" d="M579 562.5 L587.5 588.8"/>
<path class="t" d="M584.4 596 L578.2 632"/>
<polygon class="cf" points="578.3,620 582.6,616 580.3,636.5"/>
<path class="t" d="M578 643 L593.5 709.6"/>
<path class="t" d="M582.5 790 L576 822"/>
<path class="t" d="M575.8 828 L578.5 836.5 L587.6 839.6 L585.5 846 L576.8 843.5"/>
<path class="t" d="M587.2 846.5 L584 870 L576.6 907"/>
<path class="t" d="M576 915.5 L585.2 920 L577 975"/>
<path class="t" d="M585.5 925 L583 960 L586 985"/>
<path class="t" d="M583.2 983 L588.7 990.5 L575.8 1027"/>
<path class="t" d="M585.2 987 L576.4 1013.5"/>
<path class="o" d="M593.5 577 L593.5 486.5 L607.5 460.8 L652.9 460.8 L667.8 486.5 L667.8 577"/>
<path class="a" d="M594.1 485.5 L607.5 460.8 L610.2 460.8 L596.6 489.5 L596.6 493 Z"/>
<path class="a" d="M667.2 485.5 L652.9 460.8 L650.2 460.8 L664.4 489.5 L664.4 493 Z"/>
<path class="t" d="M596.6 490.5 L596.6 576"/>
<path class="t" d="M664.4 490.5 L664.4 576"/>
<path class="o" d="M593.5 577 L608 606.7"/>
<path class="t" d="M596.6 576 L610.8 606.7"/>
<path class="o" d="M667.8 577 L652.4 606.7"/>
<path class="t" d="M664.4 576 L649.6 606.7"/>
<path class="b" d="M608 606.7 L653.9 606.7 L653.9 621.5 L608 621.5 Z"/>
<line class="t" x1="610.8" y1="606.7" x2="610.8" y2="621.5"/>
<line class="t" x1="651" y1="606.7" x2="651" y2="621.5"/>
<path class="o" d="M608 621.5 Q598.4 653 593.5 683 L593.5 854.2 Q598.4 884.2 608 915.7"/>
<path class="t" d="M610.8 621.5 Q601.5 652 596.6 681 L596.6 856.2 Q601.5 885.2 610.8 915.7"/>
<path class="o" d="M652.4 621.5 Q662.9 653 667.8 683 L667.8 854.2 Q662.9 884.2 652.4 915.7"/>
<path class="t" d="M649.6 621.5 Q659.5 652 664.4 681 L664.4 856.2 Q659.5 885.2 649.6 915.7"/>
<path class="b" d="M608 915.7 L653.9 915.7 L653.9 930.5 L608 930.5 Z"/>
<line class="t" x1="610.8" y1="915.7" x2="610.8" y2="930.5"/>
<line class="t" x1="651" y1="915.7" x2="651" y2="930.5"/>
<path class="o" d="M608 930.5 L593.5 960.2"/>
<path class="t" d="M610.8 930.5 L596.6 961.2"/>
<path class="o" d="M652.4 930.5 L667.8 960.2"/>
<path class="t" d="M649.6 930.5 L664.4 961.2"/>
<path class="o" d="M593.5 960.2 L593.5 1050.7 L609.5 1076.4 L650.9 1076.4 L667.8 1050.7 L667.8 960.2"/>
<path class="t" d="M596.6 961.2 L596.6 1046.7"/>
<path class="t" d="M664.4 961.2 L664.4 1046.7"/>
<path class="a" d="M594.1 1051.7 L609.5 1076.4 L612 1076.4 L596.6 1047.7 L596.6 1044.2 Z"/>
<path class="a" d="M667.2 1051.7 L650.9 1076.4 L648.4 1076.4 L664.4 1047.7 L664.4 1044.2 Z"/>
<path class="o" d="M702.2 699 Q722 765 703.3 834"/>
<path class="t" d="M698.8 550.6 L702.2 699"/>
<path class="t" d="M703.3 834 L710.9 974"/>
<path class="o" d="M698.6 550.3 L712.6 563.8 L712.6 971.2"/>
<line class="t" x1="711" y1="566.7" x2="711" y2="970.5"/>
<path class="o" d="M707 979.3 L712.6 971.2"/>
<path class="b" d="M712.6 566.7 L1044.2 566.7 L1056.8 578.7"/>
<path class="b" d="M1056.8 958.5 L1044.2 970.6 L712.6 970.6"/>
<line x1="1056.6" y1="578.2" x2="1056.6" y2="959" stroke="#000" stroke-width="2.8" stroke-linecap="round"/>
<line class="o" x1="1042.9" y1="566.7" x2="1042.9" y2="970.6"/>
<line x1="1046.6" y1="568.5" x2="1046.6" y2="968.8" stroke="#000" stroke-width="1.25"/>
<path class="o" d="M1057 652.5 L1080 652.5 A61 55.7 0 0 0 1141 708.2 L1141 763.2 L1057 763.2"/>
<path class="o" d="M1057 773.6 L1141 773.6 L1141 829 A61 55.7 0 0 0 1080 884.7 L1057 884.7"/>
<line class="d" x1="162.5" y1="238" x2="162.5" y2="527"/>
<line class="d" x1="1141.5" y1="238" x2="1141.5" y2="706"/>
<line class="d" x1="162.5" y1="263" x2="1141.5" y2="263"/>
<polygon class="a" points="162.5,263 213.5,256.3 213.5,269.7"/>
<polygon class="a" points="1141.5,263 1090.5,269.7 1090.5,256.3"/>
<line class="d" x1="340.5" y1="354" x2="340.5" y2="464"/>
<line class="d" x1="162.5" y1="379" x2="340.5" y2="379"/>
<polygon class="a" points="162.5,379 213.5,372.3 213.5,385.7"/>
<polygon class="a" points="340.5,379 289.5,385.7 289.5,372.3"/>
<line class="d" x1="57" y1="460.6" x2="338" y2="460.6"/>
<line class="d" x1="650" y1="460.6" x2="1406" y2="460.6"/>
<line class="d" x1="57" y1="1076.5" x2="338" y2="1076.5"/>
<line class="d" x1="650" y1="1076.5" x2="1406" y2="1076.5"/>
<line class="d" x1="82" y1="460.6" x2="82" y2="1076.5"/>
<polygon class="a" points="82,460.6 89,511.6 75,511.6"/>
<polygon class="a" points="82,1076.5 75,1025.5 89,1025.5"/>
<line class="d" x1="1381" y1="460.6" x2="1381" y2="1076.5"/>
<polygon class="a" points="1381,460.6 1388,511.6 1374,511.6"/>
<polygon class="a" points="1381,1076.5 1374,1025.5 1388,1025.5"/>
<line class="d" x1="677.5" y1="546.5" x2="1298" y2="546.5"/>
<line class="d" x1="690" y1="990.4" x2="1298" y2="990.4"/>
<line class="d" x1="1280" y1="546.5" x2="1280" y2="990.4"/>
<polygon class="a" points="1280,546.5 1287,597.5 1273,597.5"/>
<polygon class="a" points="1280,990.4 1273,939.4 1287,939.4"/>
<line class="d" x1="340.6" y1="1079" x2="340.6" y2="1234.5"/>
<line class="d" x1="562.5" y1="1061" x2="562.5" y2="1234.5"/>
<line class="d" x1="340.6" y1="1217.6" x2="800" y2="1217.6"/>
<polygon class="a" points="340.6,1217.6 399.1,1210.3 399.1,1224.9"/>
<polygon class="a" points="562.5,1217.6 500,1224.9 500,1210.3"/>
<path class="d" d="M827.5 389.6 L751.5 389.6 L630.3 776.1"/>
<circle class="a" cx="630.3" cy="776.1" r="6.8"/>
<path class="d" d="M113.7 1218.2 L190 1218.2 L444.7 769.2"/>
<circle class="a" cx="444.7" cy="769.2" r="6.8"/>
<text x="570" y="252.6" font-size="45.5" textLength="193" lengthAdjust="spacingAndGlyphs">36.3 Max</text>
<text x="213" y="357" font-size="44.5" textLength="82.5" lengthAdjust="spacingAndGlyphs">7.20</text>
<text x="764" y="378.5" font-size="44.5" textLength="49" lengthAdjust="spacingAndGlyphs">22</text>
<text x="104" y="1207.5" font-size="44.5" textLength="90" lengthAdjust="spacingAndGlyphs">16.5</text>
<text x="601" y="1203.8" font-size="44.5" textLength="189" lengthAdjust="spacingAndGlyphs">11.5 Max</text>
<text x="0" y="0" font-size="44.5" textLength="47.5" lengthAdjust="spacingAndGlyphs" transform="translate(70.6 763) rotate(-90)">25</text>
<text x="0" y="0" font-size="44.5" textLength="47.5" lengthAdjust="spacingAndGlyphs" transform="translate(1356.7 786) rotate(-90)">25</text>
<text x="0" y="0" font-size="44.5" textLength="178.5" lengthAdjust="spacingAndGlyphs" transform="translate(1268.3 864.5) rotate(-90)">M18x1.0</text>
<circle class="d" cx="54.4" cy="788.8" r="14.8" style="stroke-width:1.5"/>
<line x1="33.1" y1="780" x2="76.9" y2="797.5" stroke="#000" stroke-width="1.15"/>
<circle class="d" cx="1341.7" cy="811.7" r="14.8" style="stroke-width:1.5"/>
<line x1="1319.2" y1="803.3" x2="1363.3" y2="820" stroke="#000" stroke-width="1.15"/>
</svg></body></html>
